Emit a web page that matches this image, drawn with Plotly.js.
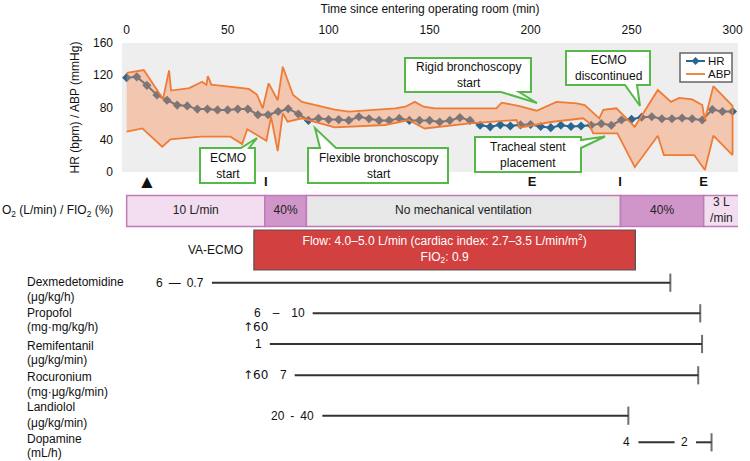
<!DOCTYPE html>
<html><head><meta charset="utf-8">
<script src="https://cdn.plot.ly/plotly-3.0.1.min.js"></script>
<style>html,body{margin:0;padding:0;background:#fff}#chart{width:750px;height:461px}</style>
</head><body><div id="chart"></div>
<script>
// ---------------- DATA ----------------
const hrT = [0,5,10,15,20,25,30,35,40,45,50,55,60,65,70,75,80,85,90,95,100,105,110,115,120,125,130,135,140,145,150,155,160,165,170,175,180,185,190,195,200,205,210,215,220,225,230,235,240,245,250,255,260,265,270,275,280,285,290,295,300];
const hrV = [117,118,107.5,95.5,89,83,82,78,78,77,77,78,78,71,71,75,78.5,72,64,66.5,65,65,64,68.5,66,64,64,66.5,64,64,64,62,64,67.5,64,58,56,58.5,57,58.5,59,56.5,55,58,56.5,57,58,60,58,64.5,65.5,68,68.5,66,66,67,66,64.5,77.5,75,75];

const abpUpperT = [0,8.5,18,21,22,31,37.4,39.5,40.2,42,43,60.5,64.5,67.4,70.3,74.8,77.3,82.4,86.8,95,103,110,116.5,123,133,138,142.7,147,152.6,163,183,185.7,194,203,212.8,222.8,226.8,234,236,242.5,251.6,263,269.5,273.6,280,285,286.3,290.5,300];
const abpUpperV = [123,126.5,90.5,126,101,104,112,108,119,108,108,103,96,79,110,89,130.6,95.5,87,82,77.5,75,76,77,79,81,87,81,79,79,79,86,82,76,87,85,83,66.5,77,79,56,101.7,87,92,90,83,65,106.5,82];
const abpLowerT = [0,7.8,17.6,21.7,36.6,51.4,57.2,59.7,69.2,71.5,74.8,77.3,79.7,86.8,91,103,128,139.6,147.5,150.3,170,193,194.5,210,226,228.5,231,243,251.6,263,266,281,286.3,290.5,300];
const abpLowerV = [50,54,31.4,40.5,43.8,43.8,34.7,53,38.8,68.6,26,72.8,62.4,66.6,63.3,55.4,58.3,64.5,54,55.4,60.4,64.5,55,62,66.6,62,48,48,6,45,21,21,2.5,45,21];

const seriesNames = ['HR','ABP'];
const xTicks = [0,50,100,150,200,250,300];
const yTicks = [0,40,80,120,160];

const eventT = [10,68.9,200.8,244.3,285.7];
const eventLabel = ['▲','<b>I</b>','<b>E</b>','<b>I</b>','<b>E</b>'];

const o2Start = [0,68.4,89,244.5,285.7];
const o2End = [68.4,89,244.5,285.7,303.3];
const o2Label = ['10 L/min','40%','No mechanical ventilation','40%','3 L<br>/min'];
const o2Kind = ['O2','FiO2','none','FiO2','O2'];

const ecmoStart = 63, ecmoEnd = 251.9;
const ecmoText = 'Flow: 4.0–5.0 L/min (cardiac index: 2.7–3.5 L/min/m<sup>2</sup>)<br>FIO<sub>2</sub>: 0.9';

const drugNames = ['Dexmedetomidine','Propofol','Remifentanil','Rocuronium','Landiolol','Dopamine'];
const drugUnits = ['(μg/kg/h)','(mg·mg/kg/h)','(μg/kg/min)','(mg·μg/kg/min)','(μg/kg/min)','(mL/h)'];
const segDrug = [0,1,2,3,4,5,5];
const segStart = [42.2,92.1,70.9,83.2,96.9,253.4,281.9];
const segEnd = [269.2,284,284.9,283,248.4,271.3,289.6];
const segLabel = ['6\u2002—\u20020.7','6\u2003–\u200310','1','7','20\u2002-\u200240','4','2'];
const segEndTick = [true,true,true,true,true,false,true];
const bolusDrug = [1,3];
const bolusT = [63.8,63.8];
const bolusLabel = ['↑60','↑60'];

// ---------------- LAYOUT CONSTANTS ----------------
const W = 750, H = 461;
const FONT = 'Liberation Sans, Arial, Helvetica, sans-serif';
const HRC = '#2a6690', ORC = '#ef7b35', GREEN = '#55b848';
const rowY = [282.7,313.3,344,375.3,415.7,442.3];
const nameY = [282,313,346,377,407,439];
const unitY = [297,327,360,392,423,453];
const bolusY = [327,375.3];
const o2Y = 211, o2H = 31, ecmoY = 250, ecmoH = 40, eventY = 183;
const o2Colors = {O2:'#f3ddf0', FiO2:'#d096ca', none:'#e7e7e7'};

const P = (x,y) => (x/W).toFixed(5)+','+(1-y/H).toFixed(5);
function bubble(pts){ return 'M'+pts.map(p=>P(p[0],p[1])).join(' L')+' Z'; }

const bubbles = [
  {text:'ECMO<br>start', r:[200,148,255,183], path:[[200,148],[241,148],[257,138],[249,148],[255,148],[255,183],[200,183]]},
  {text:'Flexible bronchoscopy<br>start', r:[308,148,448,183], path:[[308,148],[320,148],[315,128],[336,148],[448,148],[448,183],[308,183]]},
  {text:'Rigid bronchoscopy<br>start', r:[405,58,531,92], path:[[405,58],[531,58],[531,92],[519,92],[537,103],[501,92],[405,92]]},
  {text:'ECMO<br>discontinued', r:[566,51,650,85], path:[[566,51],[650,51],[650,85],[637,85],[640,106],[625,85],[566,85]]},
  {text:'Tracheal stent<br>placement', r:[475,137,581,172], path:[[475,137],[581,137],[581,140],[605,136.5],[581,148],[581,172],[475,172]]}
];
// custom legend box (pixels)
const LG = {x0:680, y0:53, x1:732, y1:82, lx0:686, lx1:705, ty:[61,74], tx:706};

// ---------------- TRACES ----------------
const traces = [];
traces.push({x:hrT, y:hrV, name:seriesNames[0], mode:'lines+markers', xaxis:'x', yaxis:'y', showlegend:false,
  line:{color:HRC, width:2}, marker:{symbol:'diamond', size:7, color:HRC}, hoverinfo:'skip'});
traces.push({x:abpUpperT.concat(abpLowerT.slice().reverse()), y:abpUpperV.concat(abpLowerV.slice().reverse()),
  name:seriesNames[1], mode:'lines', fill:'toself', fillcolor:'rgba(250,140,80,0.4)', line:{color:ORC, width:1.8},
  showlegend:false, xaxis:'x', yaxis:'y', hoverinfo:'skip'});

traces.push({type:'bar', orientation:'h', xaxis:'x', yaxis:'y2', showlegend:false, cliponaxis:false,
  y:o2Start.map(()=>o2Y), base:o2Start, x:o2Start.map((s,i)=>o2End[i]-s), width:o2Start.map(()=>o2H),
  marker:{color:o2Kind.map(k=>o2Colors[k]), line:{color:'#c07aba', width:1.5}}, hoverinfo:'skip'});
traces.push({type:'scatter', mode:'text', xaxis:'x', yaxis:'y2', showlegend:false, cliponaxis:false,
  x:o2Start.map((s,i)=>(s+o2End[i])/2), y:o2Start.map(()=>o2Y), text:o2Label,
  textfont:{family:FONT, size:12, color:'#222'}, hoverinfo:'skip'});

traces.push({type:'bar', orientation:'h', xaxis:'x', yaxis:'y2', showlegend:false,
  y:[ecmoY], base:[ecmoStart], x:[ecmoEnd-ecmoStart], width:[ecmoH],
  marker:{color:'#d2403f', line:{color:'#555', width:1.2}}, hoverinfo:'skip'});
traces.push({type:'scatter', mode:'text', xaxis:'x', yaxis:'y2', showlegend:false,
  x:[(ecmoStart+ecmoEnd)/2], y:[ecmoY], text:[ecmoText],
  textfont:{family:FONT, size:12, color:'#fff'}, hoverinfo:'skip'});

segStart.forEach((s,i)=>{
  const yy = rowY[segDrug[i]];
  traces.push({type:'scatter', xaxis:'x', yaxis:'y2', showlegend:false, cliponaxis:false,
    x:[s, segEnd[i]], y:[yy, yy], mode: segEndTick[i] ? 'lines+markers' : 'lines',
    line:{color:'#333', width:2},
    marker:{symbol:'line-ns', size:[0,13], line:{color:'#333', width:2}}, hoverinfo:'skip'});
});

traces.push({type:'scatter', mode:'text', xaxis:'x', yaxis:'y2', showlegend:false, cliponaxis:false,
  x:eventT, y:eventT.map(()=>eventY), text:eventLabel,
  textfont:{family:FONT, size:eventLabel.map(l=>l==='▲'?19:13), color:'#111'}, hoverinfo:'skip'});

// ---------------- ANNOTATIONS ----------------
const ann = [];
drugNames.forEach((n,i)=>{
  ann.push({xref:'paper', yref:'y2', x:25/W, y:nameY[i], xanchor:'left', yanchor:'middle', text:n, showarrow:false, font:{family:FONT,size:12,color:'#111'}});
  ann.push({xref:'paper', yref:'y2', x:25/W, y:unitY[i], xanchor:'left', yanchor:'middle', text:drugUnits[i], showarrow:false, font:{family:FONT,size:12,color:'#111'}});
});
segStart.forEach((s,i)=>{
  ann.push({xref:'x', yref:'y2', x:s, y:rowY[segDrug[i]], xanchor:'right', yanchor:'middle', xshift:-6,
    text:segLabel[i], showarrow:false, font:{family:FONT,size:12,color:'#111'}});
});
bolusT.forEach((t,i)=>{
  ann.push({xref:'x', yref:'y2', x:t, y:bolusY[i], xanchor:'center', yanchor:'middle',
    text:bolusLabel[i], showarrow:false, font:{family:'DejaVu Sans, Liberation Sans, sans-serif',size:12,color:'#111'}});
});
ann.push({xref:'paper', yref:'y2', x:115/W, y:o2Y, xanchor:'right', yanchor:'middle', showarrow:false,
  text:'O<sub>2</sub> (L/min) / FIO<sub>2</sub> (%)', font:{family:FONT,size:12,color:'#111'}});
ann.push({xref:'x', yref:'y2', x:ecmoStart, y:ecmoY, xanchor:'right', yanchor:'middle', xshift:-9, showarrow:false,
  text:'VA-ECMO', font:{family:FONT,size:12,color:'#111'}});
bubbles.forEach(b=>{
  ann.push({xref:'paper', yref:'paper', x:(b.r[0]+b.r[2])/2/W, y:1-(b.r[1]+b.r[3])/2/H,
    xanchor:'center', yanchor:'middle', showarrow:false, text:b.text, align:'center',
    font:{family:FONT,size:12,color:'#111'}});
});
seriesNames.forEach((n,i)=>{
  ann.push({xref:'paper', yref:'paper', x:LG.tx/W, y:1-LG.ty[i]/H, xanchor:'left', yanchor:'middle', showarrow:false,
    text:n, font:{family:FONT,size:11.5,color:'#111'}});
});

const shapes = [
  {type:'rect', xref:'x domain', yref:'y domain', x0:0, x1:1, y0:0, y1:1, fillcolor:'#eeeeee', line:{width:0}, layer:'below'}
];
bubbles.forEach(b=>{
  shapes.push({type:'path', xref:'paper', yref:'paper', path:bubble(b.path), fillcolor:'#ffffff', line:{color:GREEN, width:2}, layer:'above'});
});
// legend
shapes.push({type:'rect', xref:'paper', yref:'paper', x0:LG.x0/W, x1:LG.x1/W, y0:1-LG.y1/H, y1:1-LG.y0/H, fillcolor:'#fff', line:{color:'#666', width:1.5}, layer:'above'});
shapes.push({type:'line', xref:'paper', yref:'paper', x0:LG.lx0/W, x1:LG.lx1/W, y0:1-LG.ty[0]/H, y1:1-LG.ty[0]/H, line:{color:HRC, width:2}, layer:'above'});
const dc = [(LG.lx0+LG.lx1)/2, LG.ty[0]];
shapes.push({type:'path', xref:'paper', yref:'paper', path:bubble([[dc[0],dc[1]-4],[dc[0]+4,dc[1]],[dc[0],dc[1]+4],[dc[0]-4,dc[1]]]), fillcolor:HRC, line:{color:HRC, width:0}, layer:'above'});
shapes.push({type:'line', xref:'paper', yref:'paper', x0:LG.lx0/W, x1:LG.lx1/W, y0:1-LG.ty[1]/H, y1:1-LG.ty[1]/H, line:{color:ORC, width:1.8}, layer:'above'});

const layout = {
  width:W, height:H, margin:{l:0,r:0,t:0,b:0}, paper_bgcolor:'#fff', plot_bgcolor:'rgba(0,0,0,0)',
  font:{family:FONT, size:12, color:'#111'},
  barmode:'overlay', showlegend:false,
  xaxis:{domain:[122/W, 738/W], range:[-2.3, 302.7], side:'top', anchor:'y', tickvals:xTicks,
    showgrid:false, zeroline:false, showline:false, ticks:'', ticklabelstandoff:6,
    tickfont:{family:FONT, size:12, color:'#111'},
    title:{text:'Time since entering operating room (min)', font:{family:FONT,size:12,color:'#111'}, standoff:6}},
  yaxis:{domain:[(H-172)/H, (H-43)/H], range:[0,160], tickvals:yTicks, anchor:'x',
    showgrid:false, zeroline:false, showline:false, ticks:'', ticklabelstandoff:8,
    tickfont:{family:FONT, size:12, color:'#111'},
    title:{text:'HR (bpm) / ABP (mmHg)', font:{family:FONT,size:12,color:'#111'}, standoff:10}},
  yaxis2:{domain:[0, (H-175)/H], range:[H,175], anchor:'x', visible:false, showgrid:false, zeroline:false},
  annotations:ann, shapes:shapes
};

Plotly.newPlot('chart', traces, layout, {staticPlot:true, displayModeBar:false});
</script></body></html>
